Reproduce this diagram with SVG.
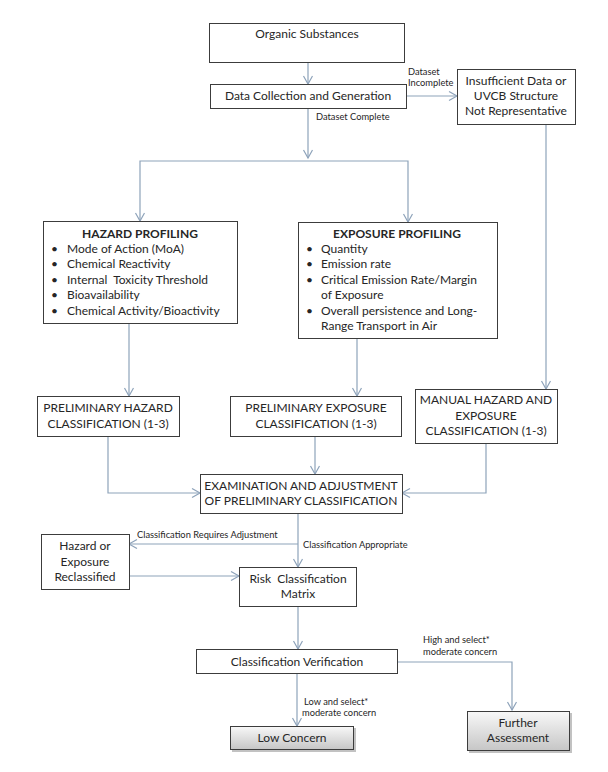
<svg xmlns="http://www.w3.org/2000/svg" width="608" height="772" viewBox="0 0 608 772">
<style>
.box{fill:#fff;stroke:#3c3c3c;stroke-width:1}
.gbox{fill:url(#g);stroke:#3c3c3c;stroke-width:1}
.sh{fill:#9a9a9a;opacity:.6}
.t{font-family:Lato,"Open Sans","Liberation Sans",sans-serif;font-size:12px;fill:#262626;text-anchor:middle;white-space:pre}
.b{font-weight:bold}
.l{text-anchor:start}
.s{font-family:Lato,"Open Sans","Liberation Sans",sans-serif;font-size:9.3px;fill:#262626;white-space:pre}
.c{fill:none;stroke:#8ea3ba;stroke-width:1.2}
.a{marker-end:url(#ah)}
</style>
<defs>
<linearGradient id="g" x1="0" y1="0" x2="0" y2="1">
<stop offset="0" stop-color="#f8f8f8"/>
<stop offset="1" stop-color="#c6c6c6"/>
</linearGradient>
<marker id="ah" markerWidth="12" markerHeight="12" refX="9" refY="5" orient="auto" markerUnits="userSpaceOnUse">
<path d="M1,0.5 L9,5 L1,9.5" fill="none" stroke="#8ea3ba" stroke-width="1.2"/>
</marker>
</defs>
<g id="connectors">
<path class="c a" d="M308,62 V84"/>
<path class="c a" d="M406,96 H457"/>
<path class="c a" d="M308,108 V158"/>
<path class="c a" d="M308,161 H140 V221"/>
<path class="c a" d="M308,161 H408 V222"/>
<path class="c a" d="M129,323 V396"/>
<path class="c a" d="M357,338 V396"/>
<path class="c a" d="M546,124 V389"/>
<path class="c a" d="M108,436 V493 H200"/>
<path class="c a" d="M315,436 V474"/>
<path class="c a" d="M486,443 V493 H402"/>
<path class="c a" d="M298,513 V567"/>
<path class="c a" d="M298,544 H129"/>
<path class="c a" d="M129,576 H239"/>
<path class="c a" d="M298,606 V649"/>
<path class="c a" d="M297,673 V726"/>
<path class="c a" d="M397,662 H512 V710"/>
</g>
<g id="labels">
<text class="s" x="408" y="75">Dataset</text>
<text class="s" x="408" y="86">Incomplete</text>
<text class="s" x="316" y="120">Dataset Complete</text>
<text class="s" x="137" y="538">Classification Requires Adjustment</text>
<text class="s" x="303" y="548">Classification Appropriate</text>
<text class="s" x="423" y="643">High and select*</text>
<text class="s" x="423" y="655">moderate concern</text>
<text class="s" x="304" y="705">Low and select*</text>
<text class="s" x="302" y="716">moderate concern</text>
</g>
<g id="organic">
<rect class="box" x="209.5" y="23.5" width="195" height="39"/>
<text class="t" x="307" y="38">Organic Substances</text>
</g>
<g id="datacollection">
<rect class="box" x="210.5" y="84.5" width="196" height="24"/>
<text class="t" x="308" y="100">Data Collection and Generation</text>
</g>
<g id="insufficient">
<rect class="box" x="457.5" y="69.5" width="118" height="55"/>
<text class="t" x="516" y="85">Insufficient Data or</text>
<text class="t" x="516" y="100">UVCB Structure</text>
<text class="t" x="516" y="115">Not Representative</text>
</g>
<g id="hazardprofiling">
<rect class="box" x="43.5" y="221.5" width="194" height="102"/>
<text class="t b" x="140" y="238">HAZARD PROFILING</text>
<text class="t l" x="51" y="253">•</text><text class="t l" x="67" y="253">Mode of Action (MoA)</text>
<text class="t l" x="51" y="268">•</text><text class="t l" x="67" y="268">Chemical Reactivity</text>
<text class="t l" x="51" y="284">•</text><text class="t l" x="67" y="284">Internal  Toxicity Threshold</text>
<text class="t l" x="51" y="299">•</text><text class="t l" x="67" y="299">Bioavailability</text>
<text class="t l" x="51" y="315">•</text><text class="t l" x="67" y="315">Chemical Activity/Bioactivity</text>
</g>
<g id="exposureprofiling">
<rect class="box" x="298.5" y="222.5" width="199" height="116"/>
<text class="t b" x="397" y="238">EXPOSURE PROFILING</text>
<text class="t l" x="306" y="253">•</text><text class="t l" x="321" y="253">Quantity</text>
<text class="t l" x="306" y="268">•</text><text class="t l" x="321" y="268">Emission rate</text>
<text class="t l" x="306" y="284">•</text><text class="t l" x="321" y="284">Critical Emission Rate/Margin</text>
<text class="t l" x="321" y="299">of Exposure</text>
<text class="t l" x="306" y="315">•</text><text class="t l" x="321" y="315">Overall persistence and Long-</text>
<text class="t l" x="321" y="330">Range Transport in Air</text>
</g>
<g id="prelimhazard">
<rect class="box" x="37.5" y="396.5" width="142" height="40"/>
<text class="t" x="108" y="412">PRELIMINARY HAZARD</text>
<text class="t" x="108" y="428">CLASSIFICATION (1-3)</text>
</g>
<g id="prelimexposure">
<rect class="box" x="230.5" y="396.5" width="171" height="40"/>
<text class="t" x="316" y="412">PRELIMINARY EXPOSURE</text>
<text class="t" x="316" y="428">CLASSIFICATION (1-3)</text>
</g>
<g id="manual">
<rect class="box" x="415.5" y="389.5" width="142" height="54"/>
<text class="t" x="486" y="404">MANUAL HAZARD AND</text>
<text class="t" x="486" y="420">EXPOSURE</text>
<text class="t" x="486" y="435">CLASSIFICATION (1-3)</text>
</g>
<g id="examination">
<rect class="box" x="200.5" y="474.5" width="202" height="39"/>
<text class="t" x="301" y="490">EXAMINATION AND ADJUSTMENT</text>
<text class="t" x="301" y="505">OF PRELIMINARY CLASSIFICATION</text>
</g>
<g id="reclassified">
<rect class="box" x="41.5" y="534.5" width="88" height="55"/>
<text class="t" x="85" y="550">Hazard or</text>
<text class="t" x="85" y="566">Exposure</text>
<text class="t" x="85" y="581">Reclassified</text>
</g>
<g id="riskmatrix">
<rect class="box" x="239.5" y="567.5" width="117" height="39"/>
<text class="t" x="298" y="583">Risk  Classification</text>
<text class="t" x="298" y="598">Matrix</text>
</g>
<g id="verification">
<rect class="box" x="196.5" y="649.5" width="201" height="24"/>
<text class="t" x="297" y="666">Classification Verification</text>
</g>
<g id="lowconcern">
<rect class="sh" x="232" y="728" width="124" height="24"/>
<rect class="gbox" x="230.5" y="726.5" width="123" height="23"/>
<text class="t" x="292" y="742">Low Concern</text>
</g>
<g id="furtherassessment">
<rect class="sh" x="469" y="713" width="103" height="40"/>
<rect class="gbox" x="467.5" y="711.5" width="102" height="39"/>
<text class="t" x="518" y="727">Further</text>
<text class="t" x="518" y="742">Assessment</text>
</g>
</svg>
